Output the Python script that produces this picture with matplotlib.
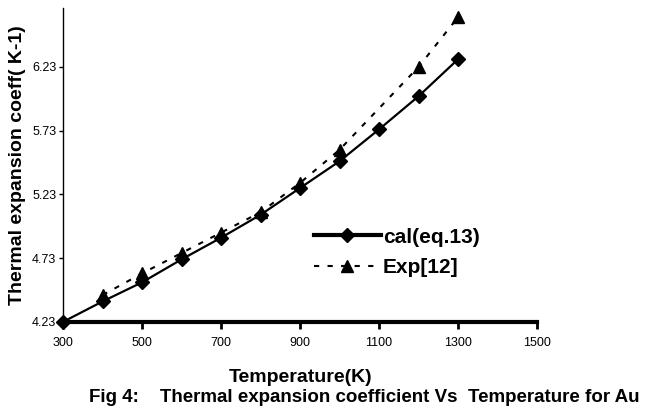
import matplotlib
matplotlib.use('Agg')
import matplotlib.pyplot as plt

plt.rcParams['font.family'] = ['Liberation Sans', 'DejaVu Sans']

temp_cal = [300, 400, 500, 600, 700, 800, 900, 1000, 1100, 1200, 1300]
alpha_cal = [4.23, 4.39, 4.54, 4.72, 4.89, 5.07, 5.28, 5.49, 5.74, 6.00, 6.29]
temp_exp = [400, 500, 600, 700, 800, 900, 1000, 1200, 1300]
alpha_exp = [4.44, 4.61, 4.77, 4.93, 5.09, 5.32, 5.58, 6.23, 6.62]

xticks = [300, 500, 700, 900, 1100, 1300, 1500]
yticks = [4.23, 4.73, 5.23, 5.73, 6.23]

fig = plt.figure(figsize=(6.51, 4.11), dpi=100)
ax = fig.add_axes([0.097, 0.217, 0.728, 0.763])

ax.plot(temp_cal, alpha_cal, color='black', lw=1.6, marker='D', ms=7,
        label='cal(eq.13)')
ax.plot(temp_exp, alpha_exp, color='black', lw=1.5, ls=(0, (2.5, 4)),
        marker='^', ms=9, label='Exp[12]')

ax.set_xlim(300, 1500)
ax.set_ylim(4.23, 6.69)
ax.set_xticks(xticks)
ax.set_yticks(yticks)
ax.set_yticklabels([f'{v:.2f}' for v in yticks])
ax.tick_params(axis='x', direction='out', length=5, width=2, labelsize=9, pad=6)
ax.tick_params(axis='y', direction='out', length=3, width=1, labelsize=9, pad=2)
ax.spines['top'].set_visible(False)
ax.spines['right'].set_visible(False)
ax.spines['bottom'].set_linewidth(3)
ax.spines['left'].set_linewidth(1)
for ln in ax.lines:
    ln.set_clip_on(False)

ax.set_ylabel('Thermal expansion coeff( K-1)', fontsize=14, fontweight='bold',
              labelpad=4)
ax.set_xlabel('Temperature(K)', fontsize=14, fontweight='bold', labelpad=14)

leg = ax.legend(loc='upper left', bbox_to_anchor=(0.49, 0.36), frameon=False,
                prop={'size': 15, 'weight': 'bold'}, handlelength=3.2,
                handletextpad=0.1, labelspacing=0.55)
leg.get_lines()[0].set_linewidth(3)

fig.text(0.136, 0.022, 'Fig 4:    Thermal expansion coefficient Vs  Temperature for Au',
         fontsize=13.5, fontweight='bold')

fig.savefig('out.png', dpi=100)
